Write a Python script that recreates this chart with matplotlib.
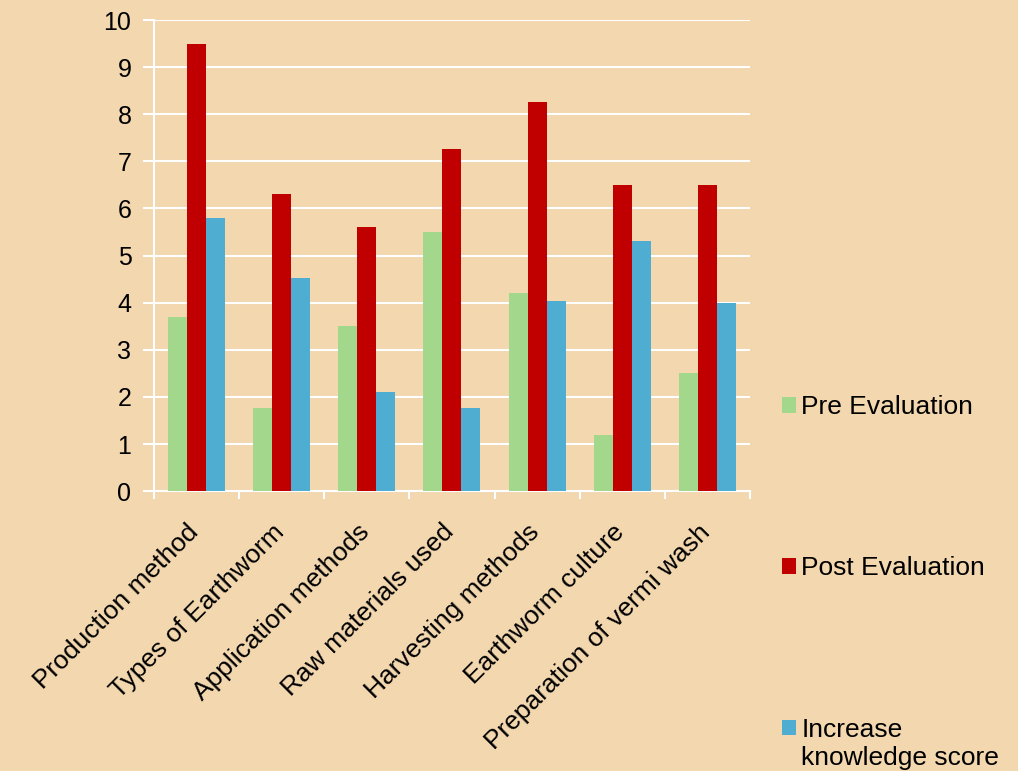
import matplotlib.pyplot as plt
import matplotlib.transforms as mtransforms
import numpy as np

plt.rcParams['font.family'] = ['Liberation Sans', 'DejaVu Sans']

categories = ['Production method', 'Types of Earthworm', 'Application methods',
              'Raw materials used', 'Harvesting methods', 'Earthworm culture',
              'Preparation of vermi wash']
pre_eval = [3.7, 1.77, 3.5, 5.5, 4.2, 1.2, 2.5]
post_eval = [9.5, 6.3, 5.6, 7.26, 8.25, 6.5, 6.5]
increase = [5.8, 4.53, 2.1, 1.77, 4.04, 5.3, 4.0]

bg = '#F2D7AF'
fig = plt.figure(figsize=(10.18, 7.71), dpi=100, facecolor=bg)
ax = fig.add_axes([0.151, 0.363, 0.586, 0.611], facecolor=bg)

x = np.arange(len(categories))
w = 0.223
ax.bar(x - w, pre_eval, w, color='#A3D78B', label='Pre Evaluation', zorder=3)
ax.bar(x, post_eval, w, color='#C00000', label='Post Evaluation', zorder=3)
ax.bar(x + w, increase, w, color='#4EADD0', label='Increase', zorder=3)

ax.set_xlim(-0.5, len(categories) - 0.5)
ax.set_ylim(0, 10)
ax.set_yticks(range(0, 11))
ax.yaxis.grid(True, color='white', linewidth=1.5, zorder=0)
ax.set_axisbelow(True)

for s in ['top', 'right']:
    ax.spines[s].set_visible(False)
for s in ['left', 'bottom']:
    ax.spines[s].set_color('white')
    ax.spines[s].set_linewidth(1.5)

ax.set_xticks(x)
ax.set_xticklabels(categories, rotation=45, ha='right', rotation_mode='anchor', fontsize=19)
ax.tick_params(axis='x', length=0, pad=12)
# nudge rotated labels down-left like the original
shift = mtransforms.ScaledTranslation(-0.10, -0.12, fig.dpi_scale_trans)
for lab in ax.get_xticklabels():
    lab.set_transform(lab.get_transform() + shift)
ax.set_xticks(np.arange(-0.5, len(categories)), minor=True)
ax.tick_params(axis='x', which='minor', length=6, width=1.5, color='white')
ax.tick_params(axis='y', length=8, width=1.5, color='white', labelsize=18, pad=8)

leg = ax.legend(loc='upper left', bbox_to_anchor=(1.035, 0.226), frameon=False,
                fontsize=19, labelspacing=5.2, handlelength=0.53, handleheight=0.53,
                handletextpad=0.21, borderaxespad=0)
fig.canvas.draw()
ax.annotate('knowledge score', xy=(0, 0), xycoords=leg.get_texts()[2],
            xytext=(0, -3), textcoords='offset points', ha='left', va='top',
            fontsize=19, annotation_clip=False)

fig.savefig('out.png', dpi=100, facecolor=bg)
